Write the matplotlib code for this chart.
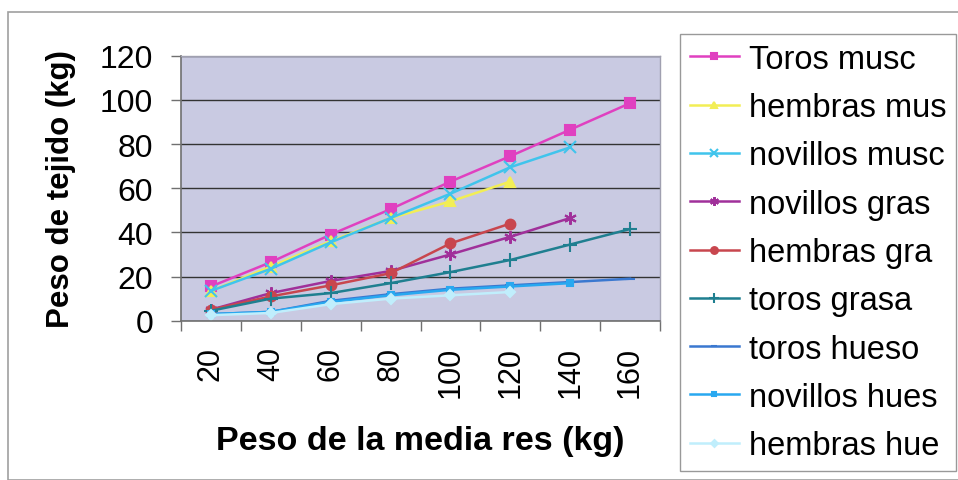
import matplotlib
matplotlib.use("Agg")
import matplotlib.pyplot as plt
from matplotlib.patches import Rectangle
import numpy as np

plt.rcParams['font.family'] = ['Liberation Sans', 'DejaVu Sans']

categories = ["20", "40", "60", "80", "100", "120", "140", "160"]

toros_musc = [15.5, 26.5, 39, 50.5, 63, 74.5, 86.5, 98.5]
hembras_mus = [13.5, 24.5, 36, 46.5, 54, 63]
novillos_musc = [13.5, 23.5, 35.5, 46.5, 57.5, 69.5, 78.5]
novillos_gras = [5, 12.5, 18, 22.5, 30, 38, 46.5]
hembras_gra = [5, 11, 16, 21.5, 35, 44]
toros_grasa = [4.5, 10, 12.5, 17, 22, 27.5, 34.5, 41.5]
toros_hueso = [3, 4, 9, 12, 14.5, 16, 17.5, 19]
novillos_hues = [3, 4, 8.5, 11.5, 14, 15.5, 17]
hembras_hue = [2.5, 3.5, 7.5, 10, 11.5, 13]

series = [
    ("Toros musc", toros_musc, "#e040c0", "s", 7),
    ("hembras mus", hembras_mus, "#f2ee55", "^", 7),
    ("novillos musc", novillos_musc, "#40c4ec", "x", 8),
    ("novillos gras", novillos_gras, "#a0309a", (6, 2, 0), 9),
    ("hembras gra", hembras_gra, "#c8464e", "o", 7),
    ("toros grasa", toros_grasa, "#1f7f90", "+", 10),
    ("toros hueso", toros_hueso, "#3a78d0", "_", 7),
    ("novillos hues", novillos_hues, "#28a8f0", "s", 5),
    ("hembras hue", hembras_hue, "#c0eefc", "D", 5),
]

fig = plt.figure(figsize=(9.58, 4.81), dpi=100)
fig.patch.set_facecolor("white")

# outer chart-area border
fig.patches.append(Rectangle((8 / 958, 0), 1.0, 1 - 13 / 481, transform=fig.transFigure,
                             fill=False, edgecolor="#a0a0a0", linewidth=1.2))

ax = fig.add_axes([181 / 958, 1 - 321.7 / 481, (660 - 181) / 958, (321.7 - 56.7) / 481])
ax.set_facecolor("#c9cae2")

x_all = np.arange(len(categories))
for label, vals, color, marker, ms in series:
    x = x_all[:len(vals)]
    ax.plot(x, vals, color=color, linewidth=1.8, marker=marker, markersize=ms,
            markeredgewidth=1.5, markerfacecolor=color, markeredgecolor=color,
            label=label)

ax.set_ylim(0, 120)
ax.set_yticks(np.arange(0, 121, 20))
ax.set_xlim(-0.5, len(categories) - 0.5)
ax.set_xticks(x_all)
ax.set_xticklabels(categories, rotation=90)
ax.set_xticks(np.arange(-0.5, len(categories)), minor=True)
ax.tick_params(axis="x", which="major", length=0, pad=18, labelsize=22)
ax.tick_params(axis="x", which="minor", length=7, width=1, color="#707070", direction="out")
ax.tick_params(axis="y", which="major", length=7, width=1, color="#707070", direction="out",
               pad=13, labelsize=23)

ax.yaxis.grid(True, color="#333333", linewidth=1.0)
ax.set_axisbelow(True)
for side in ("left", "bottom"):
    ax.spines[side].set_color("#707070")
    ax.spines[side].set_linewidth(1.2)
for side in ("top", "right"):
    ax.spines[side].set_color("#a0a0b0")
    ax.spines[side].set_linewidth(1.0)

ax.set_ylabel("Peso de tejido (kg)", fontsize=22.5, fontweight="bold", labelpad=17)
ax.set_xlabel("Peso de la media res (kg)", fontsize=24.5, fontweight="bold", labelpad=20)

leg = fig.legend(loc="upper left", bbox_to_anchor=(680 / 958, 1 - 35 / 481),
                 bbox_transform=fig.transFigure, fontsize=23.5, frameon=True,
                 fancybox=False, edgecolor="#808080", borderaxespad=0,
                 borderpad=0.3, labelspacing=0.53, handlelength=1.5,
                 handletextpad=0.3, markerscale=0.7)
leg.get_frame().set_linewidth(1.0)

fig.savefig("out.png", dpi=100)
